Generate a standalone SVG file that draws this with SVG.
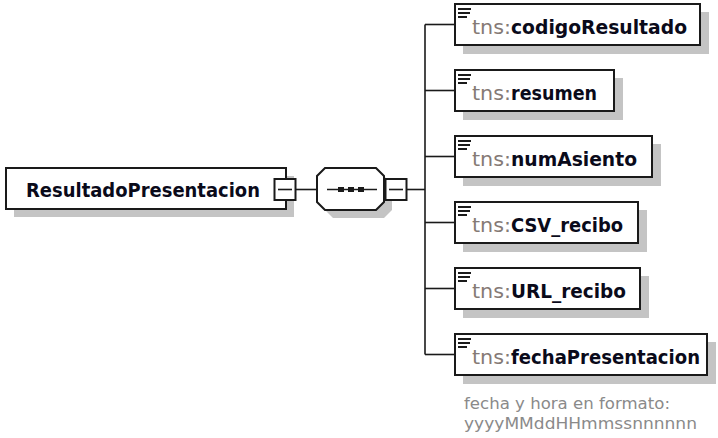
<svg xmlns="http://www.w3.org/2000/svg" width="718" height="438" viewBox="0 0 718 438">
<defs>
<style>
.box{fill:#fff;stroke:#1a1a1a;stroke-width:2}
.shadow{fill:#c4c4c4}
.line{stroke:#1a1a1a;stroke-width:1.6;fill:none}
.icon{stroke:#1a1a1a;stroke-width:2}
.pfx{font-family:"DejaVu Sans",Verdana,sans-serif;font-size:19.5px;fill:#857a75}
.nm{font-family:"DejaVu Sans",Verdana,sans-serif;font-size:19.5px;font-weight:bold;fill:#0a0a1a}
.ann{font-family:"DejaVu Sans",Verdana,sans-serif;font-size:15px;fill:#8a8a8a}
</style>
</defs>
<rect width="718" height="438" fill="#fff"/>

<g id="connectors">
<line class="line" x1="295" y1="189.5" x2="317" y2="189.5"/>
<line class="line" x1="406" y1="189.5" x2="425" y2="189.5"/>
<line class="line" x1="425" y1="24.5" x2="425" y2="354.5"/>
<line class="line" x1="425" y1="24.5" x2="455" y2="24.5"/>
<line class="line" x1="425" y1="90.5" x2="455" y2="90.5"/>
<line class="line" x1="425" y1="156.5" x2="455" y2="156.5"/>
<line class="line" x1="425" y1="222.5" x2="455" y2="222.5"/>
<line class="line" x1="425" y1="288.5" x2="455" y2="288.5"/>
<line class="line" x1="425" y1="354.5" x2="455" y2="354.5"/>
</g>

<g id="root">
<rect class="shadow" x="14" y="176" width="280" height="41"/>
<rect class="box" x="6" y="168" width="280" height="41"/>
<text x="26" y="197" class="nm" textLength="234" lengthAdjust="spacingAndGlyphs">ResultadoPresentacion</text>
<rect class="box" x="274.5" y="179" width="21" height="21"/>
<line class="line" x1="278" y1="189.5" x2="292" y2="189.5"/>
</g>

<g id="sequence">
<polygon class="shadow" points="333,176 384,176 392,184 392,210 384,218 333,218 325,210 325,184"/>
<polygon class="box" points="325,168 376,168 384,176 384,202 376,210 325,210 317,202 317,176"/>
<line class="line" x1="327" y1="189.5" x2="377" y2="189.5"/>
<rect x="338" y="187" width="6" height="5" fill="#1a1a1a"/>
<rect x="348" y="187" width="6" height="5" fill="#1a1a1a"/>
<rect x="358" y="187" width="6" height="5" fill="#1a1a1a"/>
<rect class="box" x="385.5" y="179" width="21" height="21"/>
<line class="line" x1="389" y1="189.5" x2="403" y2="189.5"/>
</g>

<g id="codigoResultado">
<rect class="shadow" x="463" y="12" width="246" height="42"/>
<rect class="box" x="455" y="4" width="245" height="41"/>
<path class="icon" d="M458 9h13M458 13h12M458 17h9"/>
<text x="472" y="33.5"><tspan class="pfx" textLength="39" lengthAdjust="spacingAndGlyphs">tns:</tspan><tspan class="nm" textLength="176" lengthAdjust="spacingAndGlyphs">codigoResultado</tspan></text>
</g>

<g id="resumen">
<rect class="shadow" x="463" y="78" width="160" height="42"/>
<rect class="box" x="455" y="70" width="159" height="41"/>
<path class="icon" d="M458 75h13M458 79h12M458 83h9"/>
<text x="472" y="99.5"><tspan class="pfx" textLength="39" lengthAdjust="spacingAndGlyphs">tns:</tspan><tspan class="nm" textLength="86" lengthAdjust="spacingAndGlyphs">resumen</tspan></text>
</g>

<g id="numAsiento">
<rect class="shadow" x="463" y="144" width="198" height="42"/>
<rect class="box" x="455" y="136" width="197" height="41"/>
<path class="icon" d="M458 141h13M458 145h12M458 149h9"/>
<text x="472" y="165.5"><tspan class="pfx" textLength="39" lengthAdjust="spacingAndGlyphs">tns:</tspan><tspan class="nm" textLength="126" lengthAdjust="spacingAndGlyphs">numAsiento</tspan></text>
</g>

<g id="CSV_recibo">
<rect class="shadow" x="463" y="210" width="184" height="42"/>
<rect class="box" x="455" y="202" width="183" height="41"/>
<path class="icon" d="M458 207h13M458 211h12M458 215h9"/>
<text x="472" y="231.5"><tspan class="pfx" textLength="39" lengthAdjust="spacingAndGlyphs">tns:</tspan><tspan class="nm" textLength="112" lengthAdjust="spacingAndGlyphs">CSV_recibo</tspan></text>
</g>

<g id="URL_recibo">
<rect class="shadow" x="463" y="276" width="186" height="42"/>
<rect class="box" x="455" y="268" width="185" height="41"/>
<path class="icon" d="M458 273h13M458 277h12M458 281h9"/>
<text x="472" y="297.5"><tspan class="pfx" textLength="39" lengthAdjust="spacingAndGlyphs">tns:</tspan><tspan class="nm" textLength="115" lengthAdjust="spacingAndGlyphs">URL_recibo</tspan></text>
</g>

<g id="fechaPresentacion">
<rect class="shadow" x="463" y="342" width="253" height="42"/>
<rect class="box" x="455" y="334" width="252" height="41"/>
<path class="icon" d="M458 339h13M458 343h12M458 347h9"/>
<text x="472" y="363.5"><tspan class="pfx" textLength="39" lengthAdjust="spacingAndGlyphs">tns:</tspan><tspan class="nm" textLength="189" lengthAdjust="spacingAndGlyphs">fechaPresentacion</tspan></text>
<text class="ann" x="464" y="409" textLength="206" lengthAdjust="spacingAndGlyphs">fecha y hora en formato:</text>
<text class="ann" x="464" y="429" textLength="233" lengthAdjust="spacingAndGlyphs">yyyyMMddHHmmssnnnnnn</text>
</g>
</svg>
